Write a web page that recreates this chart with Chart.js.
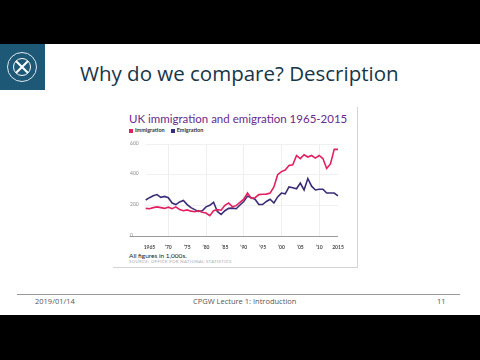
<!DOCTYPE html>
<html>
<head>
<meta charset="utf-8">
<script src="https://cdn.jsdelivr.net/npm/chart.js@4.4.1/dist/chart.umd.min.js"></script>
<style>
  body { margin: 0; width: 480px; height: 360px; overflow: hidden; background: #fff; position: relative; font-family: "Open Sans", sans-serif; }
  .bar { position: absolute; left: 0; width: 480px; background: #000; }
  #logo { position: absolute; left: 0; top: 44px; width: 45px; height: 46px; background: #1d5877; }
  #logo .ring { position: absolute; left: 7px; top: 8px; width: 28px; height: 28px; border: 1px solid #dfe9ef; border-radius: 50%; }
  #logo .inner { position: absolute; left: 13px; top: 14px; width: 16px; height: 16px; border: 1.5px solid #fff; border-radius: 50%; overflow: hidden; }
  #logo .x1, #logo .x2 { position: absolute; left: -2px; top: 7px; width: 20px; height: 2px; background: #fff; }
  #logo .x1 { transform: rotate(45deg); }
  #logo .x2 { transform: rotate(-45deg); }
  #title { position: absolute; left: 80px; top: 59px; font-size: 20.5px; color: #173546; white-space: nowrap; }
  #fig { position: absolute; left: 113px; top: 107px; width: 244px; height: 160px; border-right: 1px solid #d4d4d4; border-bottom: 1px solid #d4d4d4; }
  #ctitle { position: absolute; left: 129px; top: 112px; font-family: Lato, sans-serif; font-size: 11.5px; color: #6a2a8c; white-space: nowrap; }
  #legend { position: absolute; left: 129px; top: 127px; font-family: Lato, sans-serif; font-size: 5.5px; font-weight: bold; color: #333; white-space: nowrap; }
  #legend span.sw { display: inline-block; width: 4px; height: 4px; margin-right: 2px; vertical-align: -0.5px; }
  #legend span.item { margin-right: 6px; }
  #wrap { position: absolute; left: 122px; top: 138px; width: 222px; height: 114px; }
  #note { position: absolute; left: 129px; top: 251.5px; font-family: Lato, sans-serif; font-size: 6.5px; color: #222; white-space: nowrap; }
  #source { position: absolute; left: 129px; top: 259px; font-family: Lato, sans-serif; font-size: 4.3px; color: #a8a8a8; letter-spacing: 0.35px; white-space: nowrap; }
  #rule { position: absolute; left: 17px; top: 294px; width: 443px; height: 1px; background: #9a9a9a; }
  .foot { position: absolute; top: 296px; font-size: 7.5px; color: #555; white-space: nowrap; }
</style>
</head>
<body>
<div class="bar" style="top:0;height:44px"></div>
<div class="bar" style="top:315px;height:45px"></div>
<div id="logo"><div class="ring"></div><div class="inner"><div class="x1"></div><div class="x2"></div></div></div>
<div id="title">Why do we compare? Description</div>

<div id="fig"></div>
<div id="ctitle">UK immigration and emigration 1965-2015</div>
<div id="legend"></div>
<div id="wrap"><canvas id="chart" width="222" height="114"></canvas></div>
<div id="note">All figures in 1,000s.</div>
<div id="source">SOURCE: OFFICE FOR NATIONAL STATISTICS</div>

<div id="rule"></div>
<div class="foot" style="left:35px">2019/01/14</div>
<div class="foot" style="left:193px">CPGW Lecture 1: Introduction</div>
<div class="foot" style="left:437px">11</div>

<script>
const years = [
    1964, 1965, 1966, 1967, 1968, 1969, 1970, 1971, 1972, 1973,
    1974, 1975, 1976, 1977, 1978, 1979, 1980, 1981, 1982, 1983,
    1984, 1985, 1986, 1987, 1988, 1989, 1990, 1991, 1992, 1993,
    1994, 1995, 1996, 1997, 1998, 1999, 2000, 2001, 2002, 2003,
    2004, 2005, 2006, 2007, 2008, 2009, 2010, 2011, 2012, 2013,
    2014, 2015
];

// thousands
const immigration = [
    180, 178, 185, 190, 185, 180, 188, 178, 190, 172,
    165, 170, 162, 158, 165, 155, 150, 132, 165, 172,
    168, 200, 215, 190, 198, 220, 240, 280, 245, 250,
    270, 272, 273, 280, 320, 400, 420, 430, 460, 465,
    525, 505, 530, 515, 525, 508, 525, 505, 440, 470,
    565, 565
];

const emigration = [
    235, 250, 262, 270, 252, 258, 250, 215, 205, 222,
    232, 205, 185, 172, 160, 165, 190, 200, 220, 160,
    140, 165, 180, 182, 178, 202, 225, 260, 250, 240,
    205, 205, 225, 240, 215, 255, 280, 275, 320, 315,
    308, 345, 300, 375, 325, 300, 305, 305, 280, 280,
    280, 262
];

const tickYears = [1965, 1970, 1975, 1980, 1985, 1990, 1995, 2000, 2005, 2010, 2015];
const tickLabels = ['1965', '\u201970', '\u201975', '\u201980', '\u201985', '\u201990', '\u201995', '\u201900', '\u201905', '\u201910', '2015'];
const yTicks = [0, 200, 400, 600];

const colors = {
    immigration: '#e3205f',
    emigration: '#3b2c77',
    grid: '#f0f0f0',
    base: '#9c9c9c',
    tick: '#8a8a8a',
    xtick: '#4a4a4a'
};

document.getElementById('legend').innerHTML =
    `<span class="item"><span class="sw" style="background:${colors.immigration}"></span>Immigration</span>` +
    `<span class="item"><span class="sw" style="background:${colors.emigration}"></span>Emigration</span>`;

new Chart(document.getElementById('chart').getContext('2d'), {
    type: 'line',
    data: {
        labels: years,
        datasets: [
            {
                label: 'Immigration',
                data: immigration,
                borderColor: colors.immigration,
                borderWidth: 1.6,
                pointRadius: 0,
                tension: 0
            },
            {
                label: 'Emigration',
                data: emigration,
                borderColor: colors.emigration,
                borderWidth: 1.6,
                pointRadius: 0,
                tension: 0
            }
        ]
    },
    options: {
        responsive: false,
        animation: false,
        events: [],
        layout: { padding: { left: 8, right: 6, top: 6, bottom: 0 } },
        plugins: { legend: { display: false }, tooltip: { enabled: false } },
        scales: {
            x: {
                type: 'category',
                offset: false,
                border: { display: false },
                grid: {
                    drawTicks: false,
                    color: ctx => (years[ctx.index] % 10 === 0 ? '#eeeeee' : 'rgba(0,0,0,0)')
                },
                ticks: {
                    autoSkip: false,
                    maxRotation: 0,
                    padding: 8,
                    color: colors.xtick,
                    font: { family: 'Lato', size: 5, weight: 'bold' },
                    callback: (val, i) => {
                        const k = tickYears.indexOf(years[i]);
                        return k < 0 ? '' : tickLabels[k];
                    }
                },
                afterFit: s => { s.height = 16; s.paddingLeft = 0; s.paddingRight = 0; }
            },
            y: {
                min: 0,
                max: 600,
                border: { display: false },
                afterBuildTicks: s => { s.ticks = yTicks.map(v => ({ value: v })); },
                grid: {
                    drawTicks: true,
                    tickLength: 16,
                    color: ctx => (ctx.tick && ctx.tick.value === 0 ? colors.base : colors.grid),
                    tickColor: ctx => (ctx.tick && ctx.tick.value === 0 ? colors.base : 'rgba(0,0,0,0)')
                },
                ticks: {
                    crossAlign: 'far',
                    labelOffset: -1,
                    color: colors.tick,
                    font: { family: 'Lato', size: 5 }
                },
                afterFit: s => { s.width = 15.7; s.paddingTop = 0; s.paddingBottom = 0; }
            }
        }
    }
});
</script>
</body>
</html>
